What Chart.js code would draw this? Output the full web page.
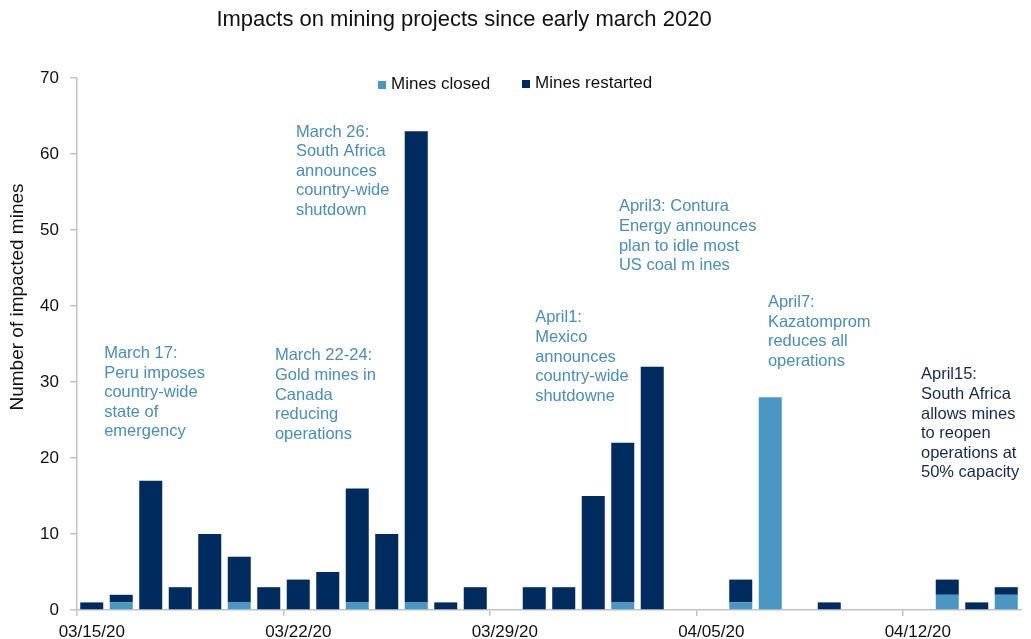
<!DOCTYPE html>
<html>
<head>
<meta charset="utf-8">
<script src="https://cdn.jsdelivr.net/npm/chart.js@4.4.1/dist/chart.umd.min.js"></script>
<style>
  html, body { margin: 0; padding: 0; background: #ffffff; }
  #wrap { width: 1031px; height: 639px; position: relative; }
</style>
</head>
<body>
<div id="wrap"><canvas id="c" width="1031" height="639"></canvas></div>
<script>
// Daily categories, 15 March to 15 April 2020
const dates = [
  '03/15/20','03/16/20','03/17/20','03/18/20','03/19/20','03/20/20','03/21/20',
  '03/22/20','03/23/20','03/24/20','03/25/20','03/26/20','03/27/20','03/28/20',
  '03/29/20','03/30/20','03/31/20','04/01/20','04/02/20','04/03/20','04/04/20',
  '04/05/20','04/06/20','04/07/20','04/08/20','04/09/20','04/10/20','04/11/20',
  '04/12/20','04/13/20','04/14/20','04/15/20'
];

// Number of mines per day
const minesClosed = [
  0, 1, 0, 0, 0, 1, 0,
  0, 0, 1, 0, 1, 0, 0,
  0, 0, 0, 0, 1, 0, 0,
  0, 1, 28, 0, 0, 0, 0,
  0, 2, 0, 2
];
const minesRestarted = [
  1, 1, 17, 3, 10, 6, 3,
  4, 5, 15, 10, 62, 1, 3,
  0, 3, 3, 15, 21, 32, 0,
  0, 3, 0, 0, 1, 0, 0,
  0, 2, 1, 1
];

const yTicks = [0, 10, 20, 30, 40, 50, 60, 70];

// Event notes: text lines, anchored at a (fractional) category index and a y value
const noteTexts = [
  ['March 17:', 'Peru imposes', 'country-wide', 'state of', 'emergency'],
  ['March 22-24:', 'Gold mines in', 'Canada', 'reducing', 'operations'],
  ['March 26:', 'South Africa', 'announces', 'country-wide', 'shutdown'],
  ['April1:', 'Mexico', 'announces', 'country-wide', 'shutdowne'],
  ['April3: Contura', 'Energy announces', 'plan to idle most', 'US coal m ines'],
  ['April7:', 'Kazatomprom', 'reduces all', 'operations'],
  ['April15:', 'South Africa', 'allows mines', 'to reopen', 'operations at', '50% capacity']
];
const noteX = [0.42, 6.21, 6.92, 15.03, 17.87, 22.92, 28.11];
const noteY = [33.75, 33.45, 62.9, 38.45, 53.05, 40.45, 30.95];

const FONT = "'Liberation Sans', Arial, sans-serif";
const CLOSED_COLOR = '#4b97c3';
const RESTARTED_COLOR = '#002b5e';
const NOTE_COLOR = '#4a8db6';
const NOTE_DARK = '#15294d';
const AXIS_COLOR = '#c4c4c4';

const decorations = {
  id: 'decorations',
  afterDraw(chart) {
    const ctx = chart.ctx;
    const xs = chart.scales.x, ys = chart.scales.y;
    ctx.save();

    // Title
    ctx.fillStyle = '#111111';
    ctx.font = '22px ' + FONT;
    ctx.textAlign = 'center';
    ctx.textBaseline = 'middle';
    ctx.fillText('Impacts on mining projects since early march 2020', 464, 20);

    // Y axis title
    ctx.save();
    ctx.translate(18, 297);
    ctx.rotate(-Math.PI / 2);
    ctx.font = '19px ' + FONT;
    ctx.fillStyle = '#111111';
    ctx.fillText('Number of impacted mines', 0, 0);
    ctx.restore();

    // Legend
    const items = [
      { label: 'Mines closed', color: CLOSED_COLOR, x: 378, y: 85 },
      { label: 'Mines restarted', color: RESTARTED_COLOR, x: 522, y: 84 }
    ];
    ctx.font = '17px ' + FONT;
    ctx.textAlign = 'left';
    items.forEach(it => {
      ctx.fillStyle = it.color;
      ctx.fillRect(it.x, it.y - 4, 8, 8);
      ctx.fillStyle = '#111111';
      ctx.fillText(it.label, it.x + 13, it.y - 1);
    });

    // Notes
    ctx.font = '16.5px ' + FONT;
    ctx.textAlign = 'left';
    ctx.textBaseline = 'middle';
    noteTexts.forEach((lines, i) => {
      const px = xs.getPixelForValue(noteX[i]);
      const py = ys.getPixelForValue(noteY[i]);
      ctx.fillStyle = i === noteTexts.length - 1 ? NOTE_DARK : NOTE_COLOR;
      lines.forEach((ln, k) => ctx.fillText(ln, px, py + k * 19.6));
    });

    ctx.restore();
  }
};

new Chart(document.getElementById('c'), {
  type: 'bar',
  data: {
    labels: dates,
    datasets: [
      { label: 'Mines closed', data: minesClosed, backgroundColor: CLOSED_COLOR,
        barPercentage: 0.78, categoryPercentage: 1.0 },
      { label: 'Mines restarted', data: minesRestarted, backgroundColor: RESTARTED_COLOR,
        barPercentage: 0.78, categoryPercentage: 1.0 }
    ]
  },
  options: {
    responsive: false,
    animation: false,
    layout: { padding: { top: 78, right: 10, bottom: 0, left: 0 } },
    plugins: {
      legend: { display: false },
      title: { display: false },
      tooltip: { enabled: false }
    },
    scales: {
      x: {
        stacked: true,
        offset: true,
        border: { color: AXIS_COLOR, width: 1.5 },
        grid: {
          offset: true,
          drawOnChartArea: false,
          drawTicks: true,
          tickLength: 6,
          lineWidth: 1.5,
          color: c => (c.index % 7 === 0 ? AXIS_COLOR : 'rgba(0,0,0,0)')
        },
        ticks: {
          autoSkip: false,
          maxRotation: 0,
          minRotation: 0,
          padding: 6,
          color: '#111111',
          font: { family: FONT, size: 17 },
          callback: function (v, i) { return i % 7 === 0 ? dates[i] : ''; }
        },
        afterFit: s => { s.height = 29; }
      },
      y: {
        stacked: true,
        min: 0,
        max: 70,
        afterBuildTicks: s => { s.ticks = yTicks.map(v => ({ value: v })); },
        border: { color: AXIS_COLOR, width: 1.5 },
        grid: {
          drawOnChartArea: false,
          drawTicks: true,
          tickLength: 7,
          lineWidth: 1.5,
          color: AXIS_COLOR
        },
        ticks: {
          padding: 11,
          color: '#111111',
          font: { family: FONT, size: 17 }
        },
        afterFit: s => { s.width = 77; }
      }
    }
  },
  plugins: [decorations]
});
</script>
</body>
</html>
